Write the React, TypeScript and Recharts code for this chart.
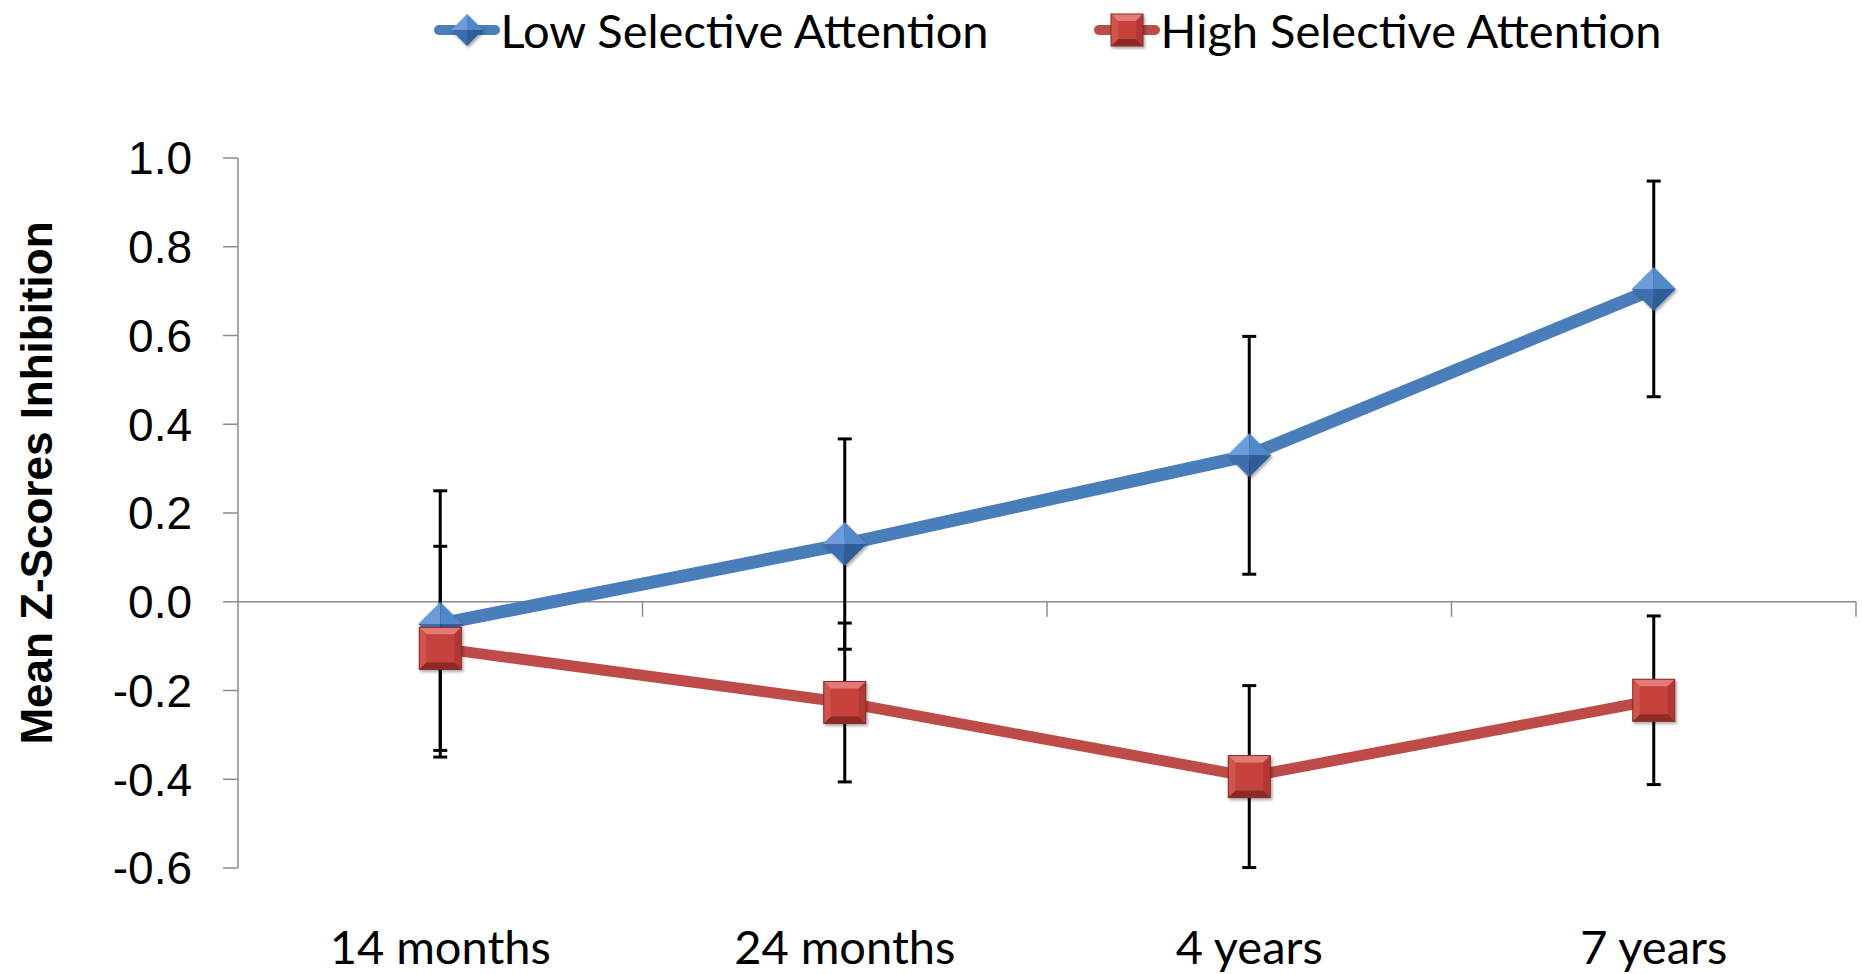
import React from "react";
import { LineChart, Line, XAxis, YAxis, ErrorBar, ReferenceLine, Legend } from "recharts";

const categories = ["14 months", "24 months", "4 years", "7 years"];
const lowMean = [-0.05, 0.13, 0.33, 0.705];
const lowErr = [0.3, 0.237, 0.268, 0.243];
const highMean = [-0.105, -0.227, -0.394, -0.222];
const highErr = [0.23, 0.179, 0.205, 0.19];
const yTicks = [-0.6, -0.4, -0.2, 0, 0.2, 0.4, 0.6, 0.8, 1.0];
const catBounds = [0.5, 1.5, 2.5, 3.5];

const data = categories.map((name, i) => ({
  idx: i,
  name,
  low: lowMean[i],
  lowErr: lowErr[i],
  high: highMean[i],
  highErr: highErr[i],
}));

const BLUE = "#4a7ebb";
const RED = "#be4b48";
const AXIS = "#8c8c8c";
const CAL = "Lato, 'Liberation Sans', Arial, sans-serif";
const ARIAL = "'Liberation Sans', Arial, sans-serif";

function Diamond({ cx, cy, r = 22 }: any) {
  if (cx == null || cy == null) return null;
  return (
    <g filter="url(#mkShadow)">
      <polygon points={`${cx - r},${cy} ${cx},${cy - r} ${cx},${cy}`} fill="#6c9cd9" />
      <polygon points={`${cx},${cy - r} ${cx + r},${cy} ${cx},${cy}`} fill="#5188ca" />
      <polygon points={`${cx - r},${cy} ${cx},${cy + r} ${cx},${cy}`} fill="#3c6eae" />
      <polygon points={`${cx + r},${cy} ${cx},${cy + r} ${cx},${cy}`} fill="#2e5d98" />
    </g>
  );
}

function Square({ cx, cy, r = 21 }: any) {
  if (cx == null || cy == null) return null;
  const b = 7;
  const x0 = cx - r, x1 = cx + r, y0 = cy - r, y1 = cy + r;
  const a0 = x0 + b, a1 = x1 - b, b0 = y0 + b, b1 = y1 - b;
  return (
    <g filter="url(#mkShadow)">
      <rect x={x0} y={y0} width={2 * r} height={2 * r} fill="#c8423e" />
      <polygon points={`${x0},${y0} ${x1},${y0} ${a1},${b0} ${a0},${b0}`} fill="#e27a76" />
      <polygon points={`${x1},${y0} ${x1},${y1} ${a1},${b1} ${a1},${b0}`} fill="#b13935" />
      <polygon points={`${x1},${y1} ${x0},${y1} ${a0},${b1} ${a1},${b1}`} fill="#8e2b28" />
      <polygon points={`${x0},${y1} ${x0},${y0} ${a0},${b0} ${a0},${b1}`} fill="#d0544f" />
      <rect x={x0} y={y0} width={2 * r} height={2 * r} fill="none" stroke="#8a2a27" strokeWidth={1} />
    </g>
  );
}

function LegendIcon({ color, kind }: { color: string; kind: "diamond" | "square" }) {
  return (
    <svg width={68} height={40} style={{ display: "block" }}>
      <line x1={6} y1={20} x2={62} y2={20} stroke={color} strokeWidth={10} strokeLinecap="round" />
      {kind === "diamond" ? <Diamond cx={34} cy={20} r={16} /> : <Square cx={34} cy={20} r={16} />}
    </svg>
  );
}

function LegendContent() {
  const items = [
    { label: "Low Selective Attention", color: BLUE, kind: "diamond" as const },
    { label: "High Selective Attention", color: RED, kind: "square" as const },
  ];
  return (
    <div style={{ height: 158, paddingLeft: 238, paddingRight: 6, boxSizing: "border-box", display: "flex", justifyContent: "center" }}>
      <div style={{ display: "flex", height: 60, alignItems: "center", gap: 104 }}>
        {items.map((it) => (
          <div key={it.label} style={{ display: "flex", alignItems: "center" }}>
            <LegendIcon color={it.color} kind={it.kind} />
            <span style={{ fontFamily: CAL, fontSize: 47, lineHeight: "60px", color: "#000", whiteSpace: "nowrap" }}>{it.label}</span>
          </div>
        ))}
      </div>
    </div>
  );
}

function XTick({ x, y, payload }: any) {
  return (
    <text x={x} y={y} dy={96} textAnchor="middle" fontFamily={CAL} fontSize={47} fill="#000">
      {categories[payload.value]}
    </text>
  );
}

function YTitle({ viewBox }: any) {
  const cy = viewBox.y + viewBox.height / 2 - 30;
  return (
    <text x={36} y={cy} transform={`rotate(-90 36 ${cy})`} textAnchor="middle" dominantBaseline="central"
      fontFamily={ARIAL} fontWeight="bold" fontSize={44} fill="#000">
      Mean Z-Scores Inhibition
    </text>
  );
}

export default function App() {
  return (
    <div style={{ position: "absolute", left: 0, top: 0, width: 1862, height: 974, background: "#fff" }}>
      <LineChart width={1862} height={974} data={data} margin={{ top: 0, right: 6, bottom: 0, left: 0 }}>
        <defs>
          <filter id="mkShadow" x="-30%" y="-30%" width="170%" height="170%">
            <feDropShadow dx={1.5} dy={2} stdDeviation={1.5} floodColor="#000" floodOpacity={0.35} />
          </filter>
        </defs>
        <Legend verticalAlign="top" align="left" content={<LegendContent />} wrapperStyle={{ left: 0, top: 0, width: 1862 }} />
        <XAxis
          type="number"
          dataKey="idx"
          domain={[-0.5, 3.5]}
          ticks={[0, 1, 2, 3]}
          interval={0}
          axisLine={false}
          tickLine={false}
          tickSize={0}
          tickMargin={0}
          height={106}
          tick={<XTick />}
        />
        <YAxis
          domain={[-0.6, 1.0]}
          ticks={yTicks}
          interval={0}
          width={238}
          axisLine={{ stroke: AXIS, strokeWidth: 1.5 }}
          tickLine={{ stroke: AXIS, strokeWidth: 1.5 }}
          tickSize={15}
          tickMargin={31}
          tickFormatter={(v: number) => v.toFixed(1)}
          tick={{ fontSize: 46, fill: "#000", fontFamily: ARIAL }}
          label={<YTitle />}
        />
        <ReferenceLine y={0} stroke={AXIS} strokeWidth={1.5} />
        {catBounds.map((b) => (
          <ReferenceLine key={b} segment={[{ x: b, y: 0 }, { x: b, y: -0.034 }]} stroke={AXIS} strokeWidth={1.5} />
        ))}
        <Line
          dataKey="low"
          stroke={BLUE}
          strokeWidth={13}
          strokeLinejoin="round"
          isAnimationActive={false}
          activeDot={false}
          dot={(p: any) => <Diamond key={`d-${p.index}`} cx={p.cx} cy={p.cy} />}
        >
          <ErrorBar dataKey="lowErr" direction="y" width={7} stroke="#000" strokeWidth={3} isAnimationActive={false} />
        </Line>
        <Line
          dataKey="high"
          stroke={RED}
          strokeWidth={11}
          strokeLinejoin="round"
          isAnimationActive={false}
          activeDot={false}
          dot={(p: any) => <Square key={`s-${p.index}`} cx={p.cx} cy={p.cy} />}
        >
          <ErrorBar dataKey="highErr" direction="y" width={7} stroke="#000" strokeWidth={3} isAnimationActive={false} />
        </Line>
      </LineChart>
    </div>
  );
}
